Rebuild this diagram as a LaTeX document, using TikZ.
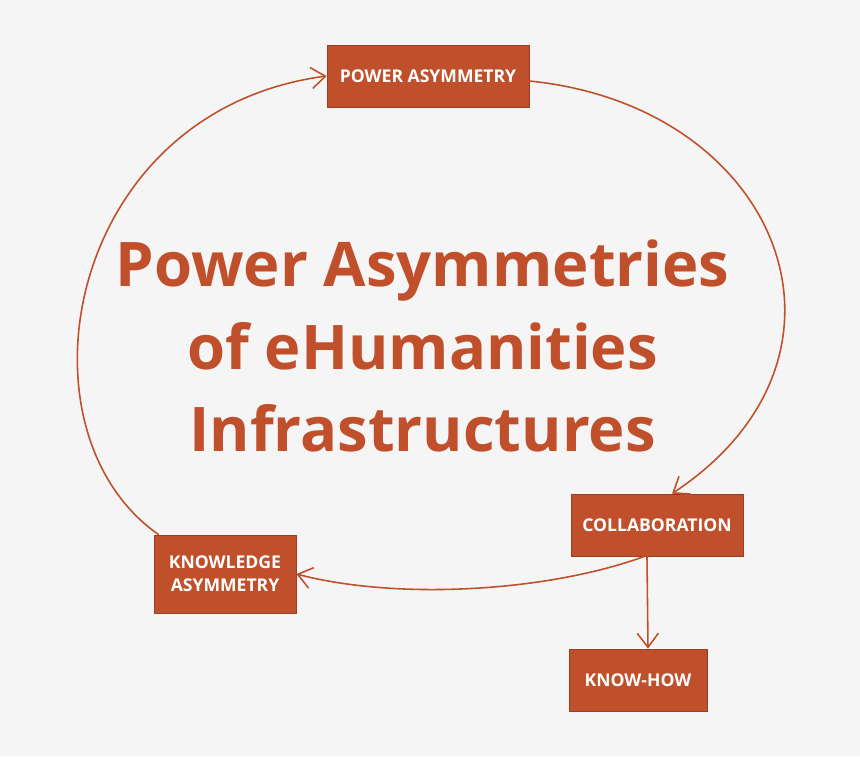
\documentclass[tikz,border=0pt]{standalone}
\usepackage{fontspec}
\setmainfont{Open Sans}
\usetikzlibrary{arrows.meta}
\definecolor{rust}{HTML}{C0502B}
\definecolor{bg}{HTML}{F5F5F5}
\tikzset{
  tag/.style={draw=rust!80!black, fill=rust, text=white, font=\bfseries\fontsize{10}{13}\selectfont,
    align=center, minimum height=1.24cm, inner sep=2pt},
  arr/.style={draw=rust, line width=0.9pt, -{Straight Barb[length=8pt,width=12pt]}}
}
\begin{document}
\begin{tikzpicture}
  \fill[bg] (0,0) rectangle (17.2,15.12);
  \useasboundingbox (0,0) rectangle (17.2,15.12);
  \node[tag, minimum width=4.04cm] (power) at (8.56,13.6) {POWER ASYMMETRY};
  \node[tag, minimum width=3.44cm] (collab) at (13.14,4.62) {COLLABORATION};
  \node[tag, minimum width=2.84cm, minimum height=1.56cm] (know) at (4.5,3.64) {KNOWLEDGE\\ASYMMETRY};
  \node[tag, minimum width=2.76cm] (howto) at (12.76,1.52) {KNOW-HOW};
  \node[text=rust, font=\bfseries\fontsize{35}{47}\selectfont, align=center] (title) at (8.45,8.2)
    {Power Asymmetries\\of eHumanities\\Infrastructures};
  % cycle
  \draw[arr] ([xshift=0.1cm]know.north west) .. controls (0.2,6.5) and (1.3,12.9) .. (power.west);
  \draw[arr] ([yshift=-0.1cm]power.east) .. controls (15.6,13) and (17.6,8) .. ([xshift=0.3cm]collab.north);
  \draw[arr] ([xshift=-0.25cm]collab.south) .. controls (11,3.3) and (8,3.1) .. (know.east);
  \draw[arr] ([xshift=-0.2cm]collab.south) -- ([xshift=0.2cm]howto.north);
\end{tikzpicture}
\end{document}
